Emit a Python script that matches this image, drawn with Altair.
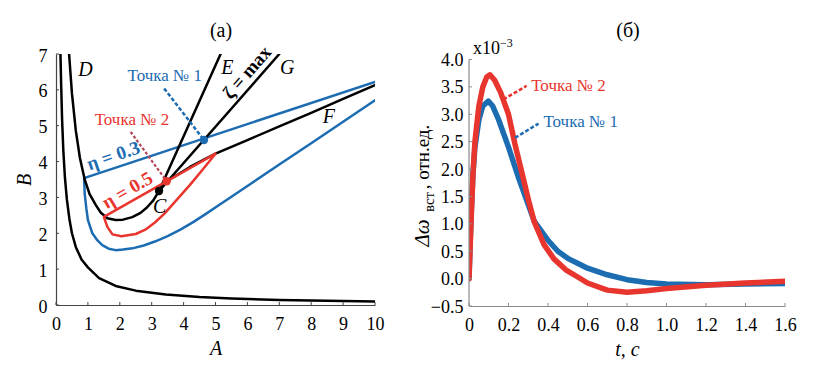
import altair as alt
import pandas as pd

SERIF = "'Liberation Serif', 'Times New Roman', Times, 'DejaVu Serif', serif"
BLUE = "#1c6cb2"
RED = "#e8352e"
BLACK = "#000000"
RED_LEADER = "#b5475a"

# ---------------- panel (a) data ----------------
hyp_A = [0.14, 0.16, 0.19, 0.23, 0.28, 0.34, 0.42, 0.5, 0.62, 0.8, 1.0, 1.35, 1.87, 2.5, 3.44, 4.5, 5.5, 7.0, 8.5, 10.0]
hyp_B = [7.0, 6.2, 5.2, 4.3, 3.55, 2.95, 2.4, 2.0, 1.62, 1.27, 1.05, 0.75, 0.53, 0.4, 0.29, 0.22, 0.18, 0.14, 0.12, 0.1]

d_A = [0.41, 0.5, 0.62, 0.75, 0.9, 1.05, 1.24, 1.4, 1.61, 1.87, 2.1, 2.39, 2.65, 2.85, 3.05, 3.23, 3.47, 4.2, 5.0, 6.0, 7.0, 8.0, 9.0, 10.0]
d_B = [7.0, 5.9, 4.87, 4.1, 3.5, 3.1, 2.8, 2.58, 2.42, 2.37, 2.38, 2.45, 2.57, 2.72, 2.92, 3.18, 3.45, 3.85, 4.22, 4.6, 4.98, 5.36, 5.75, 6.13]

e_A = [3.23, 5.16]
e_B = [3.18, 7.0]
g_A = [3.23, 7.0]
g_B = [3.18, 7.0]

eta3_A = [10.0, 0.88, 0.9, 0.95, 1.0, 1.14, 1.3, 1.45, 1.65, 1.87, 2.1, 2.4, 2.75, 3.1, 3.5, 3.9, 4.3, 4.7, 5.1, 5.5, 6.0, 7.0, 8.0, 9.0, 10.0]
eta3_B = [6.22, 3.54, 3.1, 2.7, 2.37, 2.0, 1.8, 1.67, 1.57, 1.53, 1.545, 1.58, 1.66, 1.77, 1.92, 2.1, 2.31, 2.54, 2.78, 3.02, 3.32, 3.92, 4.51, 5.11, 5.71]

eta5_A = [5.0, 1.5, 1.61, 1.77, 2.05, 2.5, 2.8, 3.1, 3.4, 3.7, 4.2, 4.6, 5.0]
eta5_B = [4.22, 2.46, 2.18, 1.97, 1.92, 1.98, 2.1, 2.3, 2.55, 2.85, 3.35, 3.78, 4.22]

lead1_A = [3.39, 4.64]
lead1_B = [6.04, 4.6]
lead2_A = [2.34, 3.47]
lead2_B = [4.83, 3.45]

pt_A = [3.23, 3.47, 4.64]
pt_B = [3.18, 3.45, 4.6]
pt_col = [BLACK, RED, BLUE]

let_txt = ["D", "E", "G", "F", "C"]
let_A = [0.92, 5.37, 7.25, 8.55, 3.25]
let_B = [6.55, 6.6, 6.6, 5.25, 2.72]

tochka_txt = ["Точка № 1", "Точка № 2"]
tochka_A = [3.41, 2.38]
tochka_B = [6.38, 5.15]
tochka_col = [BLUE, RED]

bold_txt = ["η = 0.3", "η = 0.5", "ζ = max"]
bold_A = [1.8, 2.24, 5.99]
bold_B = [4.16, 3.2, 6.48]
bold_ang = [341, 330, 311]
bold_col = [BLUE, RED, BLACK]

a_xticks = [0, 1, 2, 3, 4, 5, 6, 7, 8, 9, 10]
a_yticks = [0, 1, 2, 3, 4, 5, 6, 7]

# ---------------- panel (б) data ----------------
t1 = [0, 0.01, 0.02, 0.03, 0.05, 0.07, 0.098, 0.12, 0.15, 0.2, 0.25, 0.3, 0.33, 0.4, 0.45, 0.5, 0.555, 0.6, 0.7, 0.8, 0.9, 1.0, 1.2, 1.4, 1.6]
w1 = [0, 1.1, 1.9, 2.4, 2.9, 3.15, 3.24, 3.15, 2.9, 2.4, 1.85, 1.35, 1.05, 0.7, 0.5, 0.37, 0.27, 0.19, 0.07, -0.02, -0.07, -0.1, -0.11, -0.1, -0.09]

t2 = [0, 0.01, 0.02, 0.03, 0.05, 0.07, 0.09, 0.106, 0.13, 0.16, 0.2, 0.233, 0.27, 0.3, 0.33, 0.38, 0.43, 0.49, 0.555, 0.6, 0.7, 0.8, 0.9, 1.0, 1.2, 1.4, 1.6]
w2 = [0, 1.0, 1.9, 2.5, 3.15, 3.5, 3.68, 3.72, 3.62, 3.4, 3.0, 2.45, 1.9, 1.45, 1.04, 0.62, 0.36, 0.16, 0.02, -0.08, -0.21, -0.25, -0.22, -0.18, -0.12, -0.08, -0.05]

b_lead2_t = [0.174, 0.292]
b_lead2_w = [3.27, 3.52]
b_lead1_t = [0.233, 0.352]
b_lead1_w = [2.57, 2.83]

b_txt = ["Точка № 2", "Точка № 1"]
b_txt_t = [0.315, 0.377]
b_txt_w = [3.52, 2.86]
b_txt_col = [RED, BLUE]

b_xticks = [0, 0.2, 0.4, 0.6, 0.8, 1.0, 1.2, 1.4, 1.6]
b_yticks = [-0.5, 0.0, 0.5, 1.0, 1.5, 2.0, 2.5, 3.0, 3.5, 4.0]

# ---------------- helpers ----------------
def df_xy(xs, ys):
    return pd.DataFrame({"x": xs, "y": ys, "i": list(range(len(xs)))})

# ---------- panel (a) ----------
WA, HA = 319, 251
AX_A = "#444444"
sxA = alt.Scale(domain=[0, 10], nice=False, zero=False)
syA = alt.Scale(domain=[0, 7], nice=False, zero=False)
XA = alt.X("x:Q", scale=sxA, axis=alt.Axis(
    values=a_xticks, format="d", grid=False, ticks=False, domainColor=AX_A, domainWidth=1.2,
    labelFlush=False, labelFont=SERIF, labelFontSize=18, labelColor="black", labelPadding=10,
    title="A", titleFont=SERIF, titleFontSize=20, titleFontStyle="italic", titleFontWeight="normal",
    titleColor="black", titlePadding=5))
YA = alt.Y("y:Q", scale=syA, axis=alt.Axis(
    values=a_yticks, format="d", grid=False, ticks=False, domainColor=AX_A, domainWidth=1.2,
    labelFlush=False, labelFont=SERIF, labelFontSize=18, labelColor="black", labelPadding=9, labelOffset=2,
    title="B", titleFont=SERIF, titleFontSize=20, titleFontStyle="italic", titleFontWeight="normal",
    titleColor="black", titlePadding=4))


def lineA(xs, ys, color, width=2.5, dash=None):
    kw = dict(color=color, strokeWidth=width, strokeJoin="round", strokeCap="round", clip=True)
    if dash:
        kw["strokeDash"] = dash
        kw["strokeCap"] = "butt"
    return alt.Chart(df_xy(xs, ys)).mark_line(**kw).encode(x=XA, y=YA, order="i:Q")


def textA(labels, xs, ys, colors, angles=None, **kw):
    df = pd.DataFrame({"x": xs, "y": ys, "t": labels, "c": colors})
    enc = dict(x=XA, y=YA, text="t:N", color=alt.Color("c:N", scale=None))
    if angles is not None:
        df["a"] = angles
        enc["angle"] = alt.Angle("a:Q", scale=None)
    return alt.Chart(df).mark_text(font=SERIF, baseline="middle", align="center", **kw).encode(**enc)


tick_xA = alt.Chart(pd.DataFrame({"x": a_xticks})).mark_rule(color=AX_A, strokeWidth=1).encode(
    x=XA, y=alt.value(HA), y2=alt.value(HA - 3))
tick_yA = alt.Chart(pd.DataFrame({"y": a_yticks})).mark_rule(color=AX_A, strokeWidth=1).encode(
    y=YA, x=alt.value(0), x2=alt.value(3))

ptsA = alt.Chart(pd.DataFrame({"x": pt_A, "y": pt_B, "c": pt_col})).mark_point(
    filled=True, size=70, opacity=1).encode(x=XA, y=YA, color=alt.Color("c:N", scale=None))

titleA = alt.Chart(pd.DataFrame({"t": ["(a)"]})).mark_text(
    font=SERIF, fontSize=20, color="black", baseline="middle").encode(
    text="t:N", x=alt.value(165), y=alt.value(-23))

panelA = alt.layer(
    lineA(hyp_A, hyp_B, BLACK),
    lineA(eta3_A, eta3_B, BLUE),
    lineA(d_A, d_B, BLACK),
    lineA(e_A, e_B, BLACK),
    lineA(g_A, g_B, BLACK),
    lineA(eta5_A, eta5_B, RED),
    lineA(lead1_A, lead1_B, BLUE, width=2.5, dash=[4, 2]),
    lineA(lead2_A, lead2_B, RED_LEADER, width=2.2, dash=[3, 2]),
    ptsA,
    textA(let_txt, let_A, let_B, [BLACK] * 5, fontSize=20, fontStyle="italic"),
    textA(tochka_txt, tochka_A, tochka_B, tochka_col, fontSize=17),
    textA(bold_txt, bold_A, bold_B, bold_col, angles=bold_ang, fontSize=19, fontWeight="bold"),
    tick_xA, tick_yA, titleA,
).properties(width=WA, height=HA)

# ---------- panel (б) ----------
WB, HB = 316, 252
AX_B = "#8a8a8a"
sxB = alt.Scale(domain=[0, 1.6], nice=False, zero=False)
syB = alt.Scale(domain=[-0.5, 4.1], nice=False, zero=False)
XB = alt.X("x:Q", scale=sxB, axis=alt.Axis(
    values=b_xticks, labelExpr="datum.value == 0 ? '0' : format(datum.value, '.1f')",
    grid=False, ticks=False, domainColor=AX_B, domainWidth=1.2,
    labelFlush=False, labelFont=SERIF, labelFontSize=18, labelColor="black", labelPadding=10,
    title="t, с", titleFont=SERIF, titleFontSize=20, titleFontStyle="italic", titleFontWeight="normal",
    titleColor="black", titlePadding=5))
YB = alt.Y("y:Q", scale=syB, axis=alt.Axis(
    values=b_yticks, format=".1f", grid=False, ticks=False, domain=False,
    labelFlush=False, labelFont=SERIF, labelFontSize=18, labelColor="black", labelPadding=6, labelOffset=1,
    title=None))


def lineB(xs, ys, color, width=5.5, dash=None):
    kw = dict(color=color, strokeWidth=width, strokeJoin="round", strokeCap="round", clip=True)
    if dash:
        kw["strokeDash"] = dash
        kw["strokeCap"] = "butt"
    return alt.Chart(df_xy(xs, ys)).mark_line(**kw).encode(x=XB, y=YB, order="i:Q")


domB = alt.Chart(pd.DataFrame({"y": [b_yticks[0]], "y2": [b_yticks[-1]]})).mark_rule(
    color=AX_B, strokeWidth=1.2).encode(x=alt.value(0), y=YB, y2="y2:Q")
tick_xB = alt.Chart(pd.DataFrame({"x": b_xticks})).mark_rule(color=AX_B, strokeWidth=1).encode(
    x=XB, y=alt.value(HB), y2=alt.value(HB - 3))
tick_yB = alt.Chart(pd.DataFrame({"y": b_yticks})).mark_rule(color=AX_B, strokeWidth=1).encode(
    y=YB, x=alt.value(0), x2=alt.value(3))

txtB = alt.Chart(pd.DataFrame({"x": b_txt_t, "y": b_txt_w, "t": b_txt, "c": b_txt_col})).mark_text(
    font=SERIF, fontSize=17, align="left", baseline="middle").encode(
    x=XB, y=YB, text="t:N", color=alt.Color("c:N", scale=None))

titleB = alt.Chart(pd.DataFrame({"t": ["(б)"]})).mark_text(
    font=SERIF, fontSize=20, color="black", baseline="middle").encode(
    text="t:N", x=alt.value(159), y=alt.value(-23))

expo1 = alt.Chart(pd.DataFrame({"t": ["x10"]})).mark_text(
    font=SERIF, fontSize=18, color="black", align="left", baseline="alphabetic").encode(
    text="t:N", x=alt.value(4), y=alt.value(0))
expo2 = alt.Chart(pd.DataFrame({"t": ["−3"]})).mark_text(
    font=SERIF, fontSize=12, color="black", align="left", baseline="alphabetic").encode(
    text="t:N", x=alt.value(31), y=alt.value(-7))

ytit1 = alt.Chart(pd.DataFrame({"t": ["Δω"]})).mark_text(
    font=SERIF, fontSize=21, fontStyle="italic", color="black", angle=270, baseline="middle",
    align="center").encode(text="t:N", x=alt.value(-46), y=alt.value(179))
ytit2 = alt.Chart(pd.DataFrame({"t": ["вст"]})).mark_text(
    font=SERIF, fontSize=15, color="black", angle=270, baseline="middle",
    align="center").encode(text="t:N", x=alt.value(-40), y=alt.value(148))
ytit3 = alt.Chart(pd.DataFrame({"t": [", отн.ед."]})).mark_text(
    font=SERIF, fontSize=19, color="black", angle=270, baseline="middle",
    align="center").encode(text="t:N", x=alt.value(-46), y=alt.value(103))

panelB = alt.layer(
    lineB(t1, w1, BLUE),
    lineB(t2, w2, RED),
    lineB(b_lead2_t, b_lead2_w, RED, width=2.5, dash=[4, 2]),
    lineB(b_lead1_t, b_lead1_w, BLUE, width=2.5, dash=[4, 2]),
    txtB, domB, tick_xB, tick_yB, titleB, expo1, expo2, ytit1, ytit2, ytit3,
).properties(width=WB, height=HB)

chart = alt.hconcat(panelA, panelB, spacing=28).properties(
    padding={"left": 6, "top": 13, "right": 4, "bottom": 4},
    background="white",
).configure_view(stroke=None)

chart.save("out.html", embed_options={"renderer": "svg", "actions": False})
